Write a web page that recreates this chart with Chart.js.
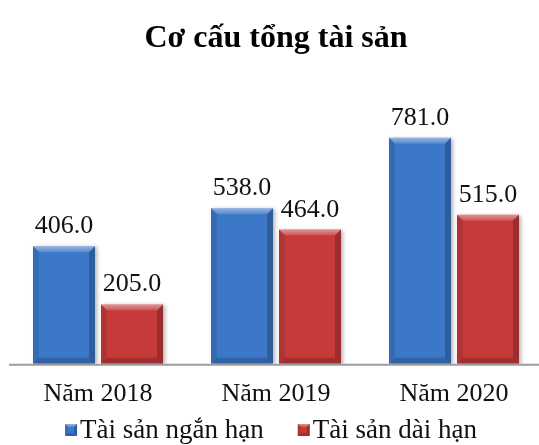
<!DOCTYPE html>
<html>
<head>
<meta charset="utf-8">
<script src="https://cdn.jsdelivr.net/npm/chart.js@4.4.0/dist/chart.umd.min.js"></script>
<style>
  html, body { margin: 0; padding: 0; background: #fff; overflow: hidden; }
  #wrap { width: 539px; height: 445px; overflow: hidden; }
</style>
</head>
<body>
<div id="wrap"><canvas id="myChart" width="545" height="445"></canvas></div>
<script>
const years = ['Năm 2018', 'Năm 2019', 'Năm 2020'];
const shortTerm = [406.0, 538.0, 781.0];
const longTerm = [205.0, 464.0, 515.0];
const seriesNames = ['Tài sản ngắn hạn', 'Tài sản dài hạn'];
const chartTitle = 'Cơ cấu tổng tài sản';

const serif = "'Liberation Serif', 'Times New Roman', serif";
const colors = ['#3C78C8', '#C63A3A'];

function poly(c, pts) {
  c.beginPath();
  c.moveTo(pts[0][0], pts[0][1]);
  for (let i = 1; i < pts.length; i++) c.lineTo(pts[i][0], pts[i][1]);
  c.closePath();
  c.fill();
}

// bevel look like the office chart
function bevel(c, l, t, r, b, s) {
  const g = c.createLinearGradient(0, t, 0, t + s);
  g.addColorStop(0, 'rgba(255,255,255,0.45)');
  g.addColorStop(1, 'rgba(255,255,255,0.12)');
  c.fillStyle = g;
  poly(c, [[l, t], [r, t], [r - s, t + s], [l + s, t + s]]);
  c.fillStyle = 'rgba(0,0,0,0.10)';
  poly(c, [[l, t], [l + s, t + s], [l + s, b - s], [l, b]]);
  c.fillStyle = 'rgba(0,0,0,0.22)';
  poly(c, [[r, t], [r - s, t + s], [r - s, b - s], [r, b]]);
  c.fillStyle = 'rgba(0,0,0,0.18)';
  poly(c, [[l, b], [l + s, b - s], [r - s, b - s], [r, b]]);
}

const barLook = {
  id: 'barLook',
  beforeDatasetsDraw(chart) {
    const c = chart.ctx;
    c.save();
    c.shadowColor = 'rgba(0,0,0,0.3)';
    c.shadowBlur = 4;
    c.shadowOffsetX = 2;
    c.shadowOffsetY = 1;
  },
  afterDatasetsDraw(chart) {
    const c = chart.ctx;
    c.restore();
    const area = chart.chartArea;
    // base line
    c.save();
    c.strokeStyle = '#9c9c9c';
    c.lineWidth = 2;
    c.beginPath();
    c.moveTo(area.left, area.bottom + 1);
    c.lineTo(area.right, area.bottom + 1);
    c.stroke();
    c.restore();

    c.save();
    chart.data.datasets.forEach((ds, i) => {
      chart.getDatasetMeta(i).data.forEach((bar, j) => {
        const p = bar.getProps(['x', 'y', 'width', 'base'], true);
        const l = p.x - p.width / 2, r = p.x + p.width / 2;
        bevel(c, l, p.y, r, p.base, 6);
        c.fillStyle = '#111';
        c.font = '26px ' + serif;
        c.textAlign = 'center';
        c.textBaseline = 'alphabetic';
        c.fillText(ds.data[j].toFixed(1), p.x, p.y - 13);
      });
    });
    c.restore();
  },
  afterDraw(chart) {
    // legend at the bottom
    const c = chart.ctx;
    c.save();
    c.font = '27px ' + serif;
    const box = 12, gap = 3, itemGap = 34;
    const widths = seriesNames.map(n => c.measureText(n).width);
    let total = 0;
    widths.forEach((w, i) => { total += box + gap + w + (i ? itemGap : 0); });
    let x = 271 - total / 2;
    const y = 436;
    seriesNames.forEach((n, i) => {
      c.fillStyle = colors[i];
      c.fillRect(x, y - box, box, box);
      bevel(c, x, y - box, x + box, y, 3);
      c.fillStyle = '#111';
      c.textAlign = 'left';
      c.textBaseline = 'alphabetic';
      c.fillText(n, x + box + gap, y + 2);
      x += box + gap + widths[i] + itemGap;
    });
    c.restore();
  }
};

const ctx = document.getElementById('myChart').getContext('2d');
new Chart(ctx, {
  type: 'bar',
  data: {
    labels: years,
    datasets: [
      { label: seriesNames[0], data: shortTerm, backgroundColor: colors[0], borderWidth: 0,
        barPercentage: 0.912, categoryPercentage: 0.764 },
      { label: seriesNames[1], data: longTerm, backgroundColor: colors[1], borderWidth: 0,
        barPercentage: 0.912, categoryPercentage: 0.764 }
    ]
  },
  options: {
    responsive: false,
    animation: false,
    devicePixelRatio: 1,
    layout: { padding: { left: 9, right: 2, top: 0, bottom: 20 } },
    scales: {
      x: {
        grid: { display: false, drawTicks: false },
        border: { display: false },
        ticks: { color: '#111', padding: 15, font: { family: serif, size: 26 } }
      },
      y: {
        display: false,
        min: 0,
        max: 900
      }
    },
    plugins: {
      legend: { display: false },
      tooltip: { enabled: false },
      title: {
        display: true,
        text: chartTitle,
        color: '#000',
        font: { family: serif, size: 32, weight: 'bold' },
        padding: { top: 20, bottom: 45 }
      }
    }
  },
  plugins: [barLook]
});
</script>
</body>
</html>
